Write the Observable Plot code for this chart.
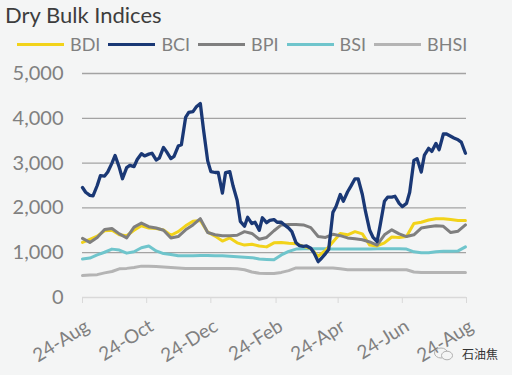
<!DOCTYPE html>
<html>
<head>
<meta charset="utf-8">
<script src="https://cdn.jsdelivr.net/npm/d3@7"></script>
<script src="https://cdn.jsdelivr.net/npm/@observablehq/plot@0.6"></script>
<style>
  html, body { margin: 0; padding: 0; }
  body { width: 512px; height: 375px; background: #f4f5f5; position: relative; overflow: hidden; font-family: Lato, "Noto Sans", sans-serif; }
  #title { position: absolute; left: 5px; top: 4px; font-size: 22px; line-height: 22px; color: #3d3d3d; white-space: nowrap; }
  #legend { position: absolute; left: 17px; top: 35px; display: flex; align-items: center; font-size: 18px; line-height: 19px; color: #808080; white-space: nowrap; }
  .item { display: flex; align-items: center; margin-right: 8px; }
  .sw { width: 47px; height: 3px; margin-right: 6px; }
  #chart { position: absolute; left: 0; top: 56px; }
  #wm { position: absolute; left: 433px; top: 345px; display: flex; align-items: center; font-family: "Noto Sans CJK SC", sans-serif; font-size: 12px; color: #333; }
</style>
</head>
<body>
<div id="title">Dry Bulk Indices</div>
<div id="legend"></div>
<div id="chart"></div>
<div id="wm"><svg width="22" height="14" viewBox="0 0 22 14"><ellipse cx="8" cy="6" rx="6.5" ry="5" fill="none" stroke="#b0b0b0" stroke-width="1"/><ellipse cx="14" cy="8.5" rx="5.5" ry="4.3" fill="#f4f5f5" stroke="#b0b0b0" stroke-width="1"/></svg><span style="margin-left:7px">石油焦</span></div>
<script>
const seriesNames = ["BDI", "BCI", "BPI", "BSI", "BHSI"];
const seriesColors = ["#f2d31a", "#1a3875", "#7f7f7f", "#6fc5cc", "#b4b4b4"];

const yTicks = [0, 1000, 2000, 3000, 4000, 5000];
const xTickDates = ["2024-08-01", "2024-10-01", "2024-12-01", "2025-02-01", "2025-04-01", "2025-06-01", "2025-08-01"];
const xTickLabels = ["24-Aug", "24-Oct", "24-Dec", "24-Feb", "24-Apr", "24-Jun", "24-Aug"];

const weeks = ["2024-08-01","2024-08-08","2024-08-15","2024-08-22","2024-08-29","2024-09-05","2024-09-12","2024-09-19","2024-09-26","2024-10-03","2024-10-10","2024-10-17","2024-10-24","2024-10-31","2024-11-07","2024-11-14","2024-11-21","2024-11-28","2024-12-05","2024-12-12","2024-12-19","2024-12-26","2025-01-02","2025-01-09","2025-01-16","2025-01-23","2025-01-30","2025-02-06","2025-02-13","2025-02-20","2025-02-27","2025-03-06","2025-03-13","2025-03-20","2025-03-27","2025-04-03","2025-04-10","2025-04-17","2025-04-24","2025-05-01","2025-05-08","2025-05-15","2025-05-22","2025-05-29","2025-06-05","2025-06-12","2025-06-19","2025-06-26","2025-07-03","2025-07-10","2025-07-17","2025-07-24","2025-07-31"];

const BDI = [1230,1300,1370,1490,1500,1400,1380,1500,1600,1550,1540,1510,1390,1470,1600,1700,1720,1460,1370,1260,1330,1220,1170,1190,1150,1130,1220,1230,1210,1200,1140,1090,920,1050,1240,1430,1400,1470,1420,1170,1150,1220,1350,1340,1360,1650,1680,1730,1760,1760,1740,1720,1720];
const BPI = [1320,1230,1340,1520,1540,1420,1330,1570,1660,1580,1550,1500,1330,1360,1510,1620,1760,1450,1400,1380,1380,1390,1470,1430,1300,1340,1490,1620,1630,1630,1620,1560,1360,1340,1410,1380,1330,1310,1290,1240,1170,1400,1510,1420,1360,1400,1550,1580,1600,1590,1450,1480,1620];
const BSI = [860,880,950,1010,1080,1060,990,1020,1110,1150,1040,980,960,930,930,930,940,940,930,930,920,910,900,890,860,850,840,950,1030,1080,1090,1090,1090,1090,1080,1080,1080,1080,1080,1080,1090,1090,1090,1090,1080,1020,1000,1000,1020,1030,1030,1040,1130];
const BHSI = [490,500,510,550,580,640,650,670,700,700,690,680,670,660,650,650,650,650,650,650,650,640,620,570,540,535,535,560,600,660,660,660,660,660,660,640,620,620,620,620,620,620,620,620,620,570,560,560,560,560,560,560,560];

const bciDates = ["2024-08-01","2024-08-04","2024-08-08","2024-08-11","2024-08-15","2024-08-18","2024-08-22","2024-08-25","2024-08-29","2024-09-01","2024-09-05","2024-09-08","2024-09-12","2024-09-15","2024-09-19","2024-09-22","2024-09-26","2024-09-29","2024-10-03","2024-10-06","2024-10-10","2024-10-13","2024-10-17","2024-10-20","2024-10-24","2024-10-27","2024-10-31","2024-11-03","2024-11-07","2024-11-10","2024-11-14","2024-11-17","2024-11-21","2024-11-24","2024-11-28","2024-12-01","2024-12-05","2024-12-08","2024-12-12","2024-12-15","2024-12-19","2024-12-22","2024-12-26","2024-12-29","2025-01-02","2025-01-05","2025-01-09","2025-01-12","2025-01-16","2025-01-19","2025-01-23","2025-01-26","2025-01-30","2025-02-02","2025-02-06","2025-02-09","2025-02-13","2025-02-16","2025-02-20","2025-02-23","2025-02-27","2025-03-02","2025-03-06","2025-03-09","2025-03-13","2025-03-16","2025-03-20","2025-03-23","2025-03-27","2025-03-30","2025-04-03","2025-04-06","2025-04-10","2025-04-13","2025-04-17","2025-04-20","2025-04-24","2025-04-27","2025-05-01","2025-05-04","2025-05-08","2025-05-11","2025-05-15","2025-05-18","2025-05-22","2025-05-25","2025-05-29","2025-06-01","2025-06-05","2025-06-08","2025-06-12","2025-06-15","2025-06-19","2025-06-22","2025-06-26","2025-06-29","2025-07-03","2025-07-06","2025-07-10","2025-07-13","2025-07-17","2025-07-20","2025-07-24","2025-07-27","2025-07-31"];
const BCI = [2455,2350, 2280,2270, 2500,2720, 2710,2800, 3000,3170, 2900,2650, 2900,2950, 2920,3080, 3210,3160, 3200,3220,
  3070,3110, 3350,3250, 3100,3150, 3380,3410, 4020,4130, 4150,4250, 4330,3750, 3050,2810, 2790,2790, 2330,2790,
  2810,2500, 2170,1700, 1590,1790, 1650,1680, 1500,1780, 1670,1720, 1740,1680, 1680,1620, 1550,1470, 1220,1160,
  1140,1150, 1100,1000, 800,870, 980,1070, 1900,2030, 2300,2150, 2360,2480, 2650,2650, 2300,1920, 1500,1350,
  1250,1620, 2150,2240, 2240,2260, 2100,2030, 2100,2350, 3060,3100, 2800,3180, 3330,3260, 3440,3300, 3650,3650,
  3600,3560, 3520,3470, 3220];

const parse = d3.utcParse("%Y-%m-%d");
function table(dates, values) { return dates.map((d, i) => ({date: parse(d), value: values[i]})); }
const tables = {
  BDI: table(weeks, BDI),
  BCI: table(bciDates, BCI),
  BPI: table(weeks, BPI),
  BSI: table(weeks, BSI),
  BHSI: table(weeks, BHSI)
};
const colorOf = Object.fromEntries(seriesNames.map((n, i) => [n, seriesColors[i]]));
const drawOrder = ["BHSI", "BSI", "BDI", "BPI", "BCI"];

// legend
const legend = document.getElementById("legend");
seriesNames.forEach((n, i) => {
  const it = document.createElement("div");
  it.className = "item";
  it.innerHTML = `<div class="sw" style="background:${seriesColors[i]}"></div><span>${n}</span>`;
  legend.appendChild(it);
});

const tickDates = xTickDates.map(parse);
const labelOf = d => xTickLabels[tickDates.findIndex(t => +t === +d)];

const chart = Plot.plot({
  width: 512,
  height: 319,
  marginLeft: 82,
  marginRight: 46,
  marginTop: 17,
  marginBottom: 78,
  style: {background: "transparent", fontFamily: "Lato, 'Noto Sans', sans-serif", fontSize: "20px", overflow: "visible"},
  x: {type: "utc", domain: [tickDates[0], tickDates[tickDates.length - 1]]},
  y: {domain: [0, 5000]},
  marks: [
    Plot.gridY(yTicks.filter(d => d > 0), {stroke: "#a3a3a3", strokeOpacity: 1, strokeWidth: 1.3}),
    Plot.ruleY([0], {stroke: "#d9d9d9", strokeWidth: 1.5}),
    Plot.axisY(yTicks, {tickSize: 0, tickPadding: 19, tickFormat: d3.format(","), fill: "#808080", fontSize: 20, label: null}),
    Plot.axisX(tickDates, {tickSize: 6, text: null, stroke: "#d9d9d9", label: null}),
    Plot.axisX(tickDates, {tickSize: 0, tickPadding: 27, dx: 5, fill: "#808080", fontSize: 19, tickRotate: -32, tickFormat: labelOf, label: null}),
    ...drawOrder.map(n => Plot.line(tables[n], {x: "date", y: "value", stroke: colorOf[n], strokeWidth: n === "BCI" ? 3.3 : 3, strokeLinejoin: "round"}))
  ]
});
document.getElementById("chart").appendChild(chart);
</script>
</body>
</html>
